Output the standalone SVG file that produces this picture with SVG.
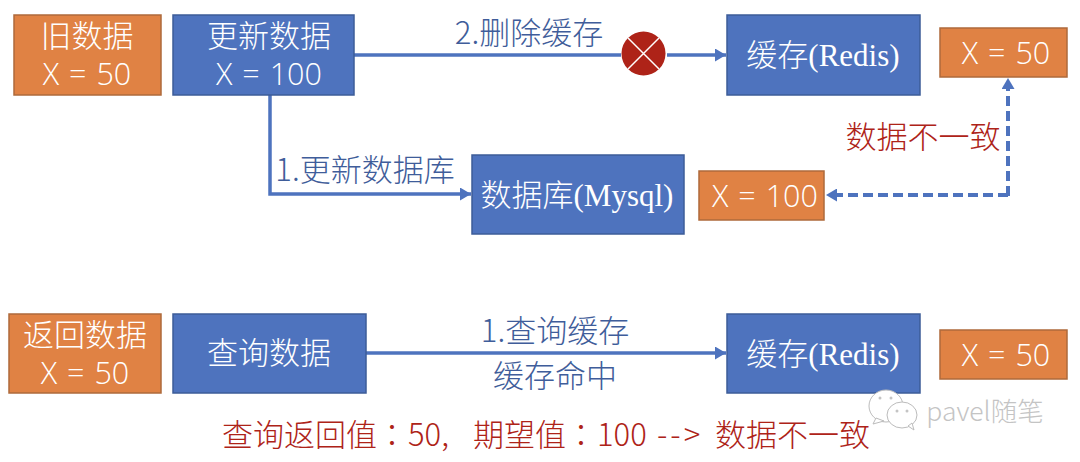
<svg xmlns="http://www.w3.org/2000/svg" width="1080" height="462" viewBox="0 0 1080 462">
<style>
text{font-family:"Noto Sans CJK SC","Noto Sans",sans-serif;font-size:31px;font-weight:300;text-anchor:middle}
.w{fill:#fff}
.b{fill:#3f5d9a}
.r{fill:#ae2318}
.blue{fill:#4e73be;stroke:#3d5c98;stroke-width:1.5}
.or{fill:#e08244;stroke:#ae6a3b;stroke-width:1.5}
.lat{font-family:"Open Sans","Noto Sans",sans-serif;font-size:30.5px;font-weight:300;word-spacing:2px}
.ser{font-family:"Liberation Serif","Noto Sans CJK SC",serif;font-size:31px}
.tc{font-family:"Noto Sans CJK TC",sans-serif}
.s{text-anchor:start}
.c{fill:none;stroke:#4e73be;stroke-width:3.5}
.d{stroke-dasharray:10 5;stroke-width:4}
.wm{fill:#fff;stroke:#bcbcbc;stroke-width:1}
.eye{fill:#c4c4c4}
</style>
<defs>
<marker id="a" markerUnits="userSpaceOnUse" markerWidth="12" markerHeight="13" refX="11" refY="6.5" orient="auto"><path d="M0 0L11 6.5L0 13Z" fill="#4e73be"/></marker>
<marker id="e" markerUnits="userSpaceOnUse" markerWidth="12" markerHeight="13" refX="0" refY="6.5" orient="auto"><path d="M0 0L11 6.500L0 13Z" fill="#4e73be"/></marker>
</defs>
<g id="connectors">
<path class="c" d="M354 55H621"/>
<path class="c" d="M667 55H726" marker-end="url(#a)"/>
<path class="c" d="M270 95V194H471" marker-end="url(#a)"/>
<path class="c d" d="M1008 196V89" marker-end="url(#e)"/>
<path class="c d" d="M1008 195H837" marker-end="url(#e)"/>
<path class="c" d="M366 353H726" marker-end="url(#a)"/>
</g>
<g id="n-old"><rect class="or" x="14" y="15" width="147" height="80"/><text class="w" x="87" y="47">旧数据</text><text class="w lat" x="87" y="85">X = 50</text></g>
<g id="n-update"><rect class="blue" x="173" y="15" width="181" height="80"/><text class="w" x="269" y="47">更新数据</text><text class="w lat" x="269" y="85">X = 100</text></g>
<g id="n-redis1"><rect class="blue" x="727" y="15" width="193" height="80"/><text class="w ser" x="823" y="66">缓存(Redis)</text></g>
<g id="n-x50a"><rect class="or" x="940" y="28" width="127" height="49"/><text class="w lat" x="1006" y="64">X = 50</text></g>
<g id="n-mysql"><rect class="blue" x="472" y="155" width="212" height="79"/><text class="w ser" x="577" y="206">数据库(Mysql)</text></g>
<g id="n-x100"><rect class="or" x="699" y="171" width="125" height="49"/><text class="w lat" x="765" y="207">X = 100</text></g>
<g id="n-return"><rect class="or" x="9" y="314" width="152" height="79"/><text class="w" x="85" y="346">返回数据</text><text class="w lat" x="85" y="384">X = 50</text></g>
<g id="n-query"><rect class="blue" x="173" y="314" width="193" height="79"/><text class="w" x="269" y="364">查询数据</text></g>
<g id="n-redis2"><rect class="blue" x="727" y="314" width="193" height="79"/><text class="w ser" x="823" y="365">缓存(Redis)</text></g>
<g id="n-x50b"><rect class="or" x="940" y="330" width="127" height="49"/><text class="w lat" x="1006" y="366">X = 50</text></g>
<g id="n-cross"><circle cx="643.500" cy="53.500" r="22" fill="#ae2318"/><path d="M628 38L659 69M659 38L628 69" stroke="#fff" stroke-width="1.500"/></g>
<g id="labels">
<text class="b" x="529" y="44">2.删除缓存</text>
<text class="b" x="365" y="181">1.更新数据库</text>
<text class="b" x="555" y="342">1.查询缓存</text>
<text class="b" x="555" y="387">缓存命中</text>
<text class="r" x="923" y="148">数据不一致</text>
<text class="r s" y="446"><tspan x="222">查询返回值</tspan><tspan class="tc" x="376.500">：</tspan><tspan x="408">50,</tspan><tspan x="473">期望值</tspan><tspan class="tc" x="565.500">：</tspan><tspan x="597">100</tspan><tspan x="657" letter-spacing="3">--&gt;</tspan><tspan x="715">数据不一致</tspan></text>
</g>
<g id="watermark">
<ellipse class="wm" cx="886" cy="406" rx="17" ry="16"/>
<path class="wm" d="M876 418L873 424L884 421Z"/>
<ellipse class="wm" cx="902" cy="415" rx="15" ry="13"/>
<path class="wm" d="M908 426L914 430L912 423Z"/>
<circle class="eye" cx="880" cy="398" r="1.500"/><circle class="eye" cx="891" cy="398" r="1.500"/>
<circle class="eye" cx="897" cy="411" r="1.500"/><circle class="eye" cx="907" cy="411" r="1.500"/>
<text x="985" y="421" style="font-size:26.5px;fill:#c4c4c4">pavel随笔</text>
</g>
</svg>
